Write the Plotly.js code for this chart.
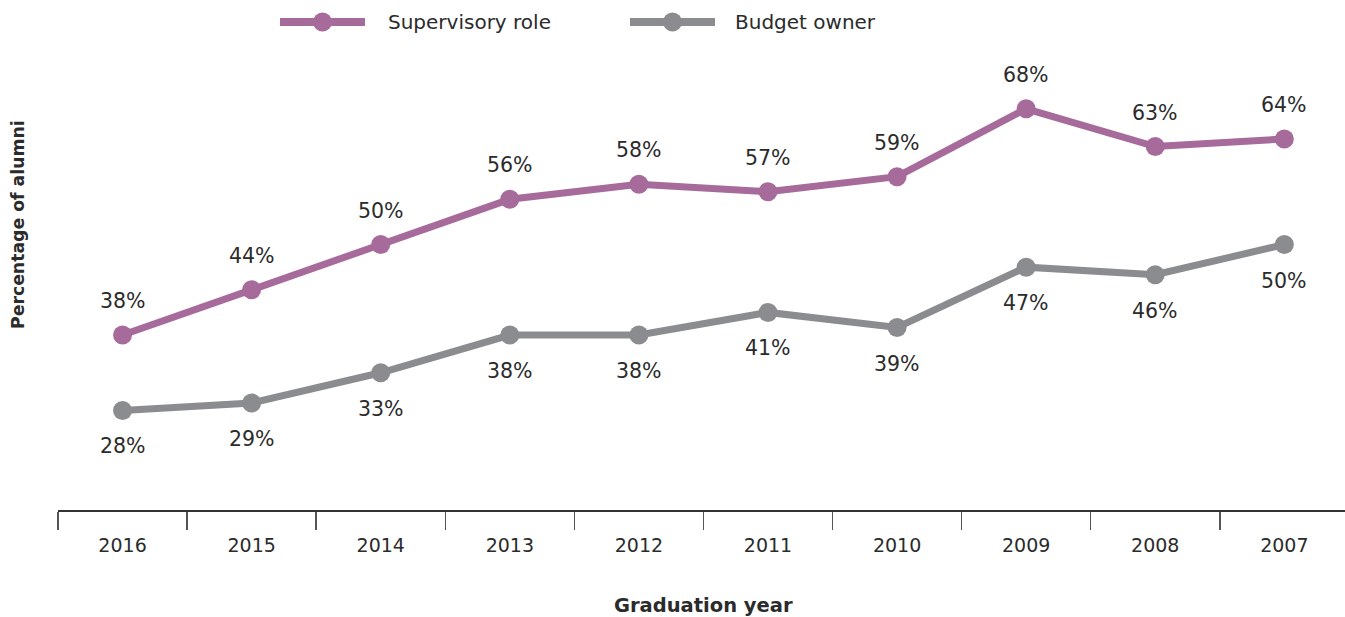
<!DOCTYPE html>
<html>
<head>
<meta charset="utf-8">
<script src="https://cdn.plot.ly/plotly-3.0.1.min.js"></script>
<style>html,body{margin:0;padding:0;background:#fff;}#chart{width:1345px;height:617px;}</style>
</head>
<body>
<div id="chart"></div>
<script>
const years = ["2016","2015","2014","2013","2012","2011","2010","2009","2008","2007"];
const supervisory = [38,44,50,56,58,57,59,68,63,64];
const budget = [28,29,33,38,38,41,39,47,46,50];
const seriesNames = ["Supervisory role","Budget owner"];
const xTitle = "Graduation year";
const yTitle = "Percentage of alumni";

const PURPLE = "#a66b9a";
const GRAY = "#8b8c8f";
const TXT = "#2b2b2b";
const FONT = "DejaVu Sans, Liberation Sans, Arial, sans-serif";

const W = 1345, Hh = 617;
const M = {l:58, r:0, t:56, b:107};
const PW = W - M.l - M.r, PH = Hh - M.t - M.b;
const px2x = p => (p - M.l)/PW;
const py2y = p => (M.t + PH - p)/PH;

function pct(v){ return v + "%"; }

const traces = [
  {x: years, y: supervisory, name: seriesNames[0], type:"scatter", mode:"lines+markers",
   line:{color:PURPLE, width:7}, marker:{color:PURPLE, size:19}, showlegend:false, cliponaxis:false},
  {x: years, y: budget, name: seriesNames[1], type:"scatter", mode:"lines+markers",
   line:{color:GRAY, width:7}, marker:{color:GRAY, size:19}, showlegend:false, cliponaxis:false}
];

const annotations = [];
years.forEach((yr,i)=>{
  annotations.push({x:i, y:supervisory[i], xref:"x", yref:"y", text:pct(supervisory[i]),
    showarrow:false, yshift:34, font:{family:FONT, size:20.5, color:TXT}});
  annotations.push({x:i, y:budget[i], xref:"x", yref:"y", text:pct(budget[i]),
    showarrow:false, yshift:-36, font:{family:FONT, size:20.5, color:TXT}});
});

// custom legend
const legendItems = [
  {name: seriesNames[0], color: PURPLE, x0: 280, x1: 365, tx: 386},
  {name: seriesNames[1], color: GRAY, x0: 630, x1: 715, tx: 733}
];
const LY = 22;
const shapes = [];
legendItems.forEach(it=>{
  shapes.push({type:"line", xref:"paper", yref:"paper", x0:px2x(it.x0), x1:px2x(it.x1), y0:py2y(LY), y1:py2y(LY),
    line:{color:it.color, width:8}, layer:"above"});
  const cx = (it.x0+it.x1)/2;
  shapes.push({type:"circle", xref:"paper", yref:"paper", xsizemode:"pixel", ysizemode:"pixel",
    xanchor:px2x(cx), yanchor:py2y(LY), x0:-9.5, x1:9.5, y0:-9.5, y1:9.5,
    fillcolor:it.color, line:{width:0}, layer:"above"});
  annotations.push({xref:"paper", yref:"paper", x:px2x(it.tx), y:py2y(LY), xanchor:"left", yanchor:"middle",
    text:it.name, showarrow:false, font:{family:FONT, size:20, color:TXT}});
});

// axis titles
annotations.push({xref:"paper", yref:"paper", x:px2x(703), y:py2y(605), xanchor:"center", yanchor:"middle",
  text:"<b>"+xTitle+"</b>", showarrow:false, font:{family:FONT, size:19.5, color:TXT}});
annotations.push({xref:"paper", yref:"paper", x:px2x(18), y:py2y(225), xanchor:"center", yanchor:"middle",
  text:"<b>"+yTitle+"</b>", textangle:-90, showarrow:false, font:{family:FONT, size:17.3, color:TXT}});

const layout = {
  width: W, height: Hh,
  margin: M,
  paper_bgcolor:"#fff", plot_bgcolor:"#fff",
  font:{family:FONT, color:TXT},
  showlegend:false,
  xaxis:{type:"category", categoryorder:"array", categoryarray:years,
    range:[-0.5, 9.47], showline:true, linecolor:"#333", linewidth:1.5,
    ticks:"outside", ticklen:18, tickwidth:1.5, tickcolor:"#555", tickson:"boundaries",
    ticklabelstandoff:18,
    showgrid:false, zeroline:false, tickfont:{family:FONT, size:19, color:TXT},
    automargin:false, fixedrange:true},
  yaxis:{range:[14.8, 75], showline:false, showgrid:false, zeroline:false, showticklabels:false, ticks:"",
    automargin:false, fixedrange:true},
  annotations: annotations,
  shapes: shapes
};

Plotly.newPlot("chart", traces, layout, {displayModeBar:false, staticPlot:true});
</script>
</body>
</html>
